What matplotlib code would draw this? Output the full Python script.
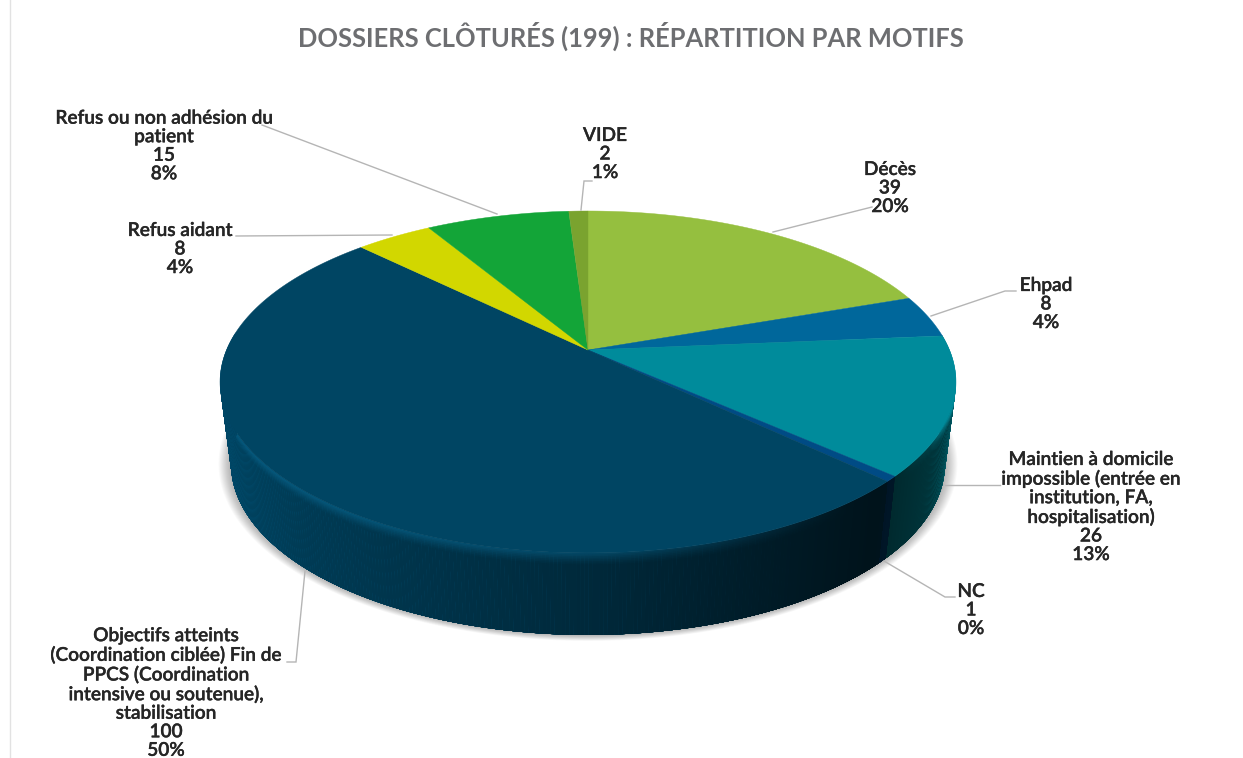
#!/usr/bin/env python3
import numpy as np
import matplotlib
matplotlib.use('Agg')
import matplotlib.pyplot as plt
import matplotlib.patheffects as pe
from matplotlib.collections import PolyCollection
from matplotlib.colors import to_rgb

#-DATA------------------------------------------------------------------------#
title = 'DOSSIERS CLÔTURÉS (199) : RÉPARTITION PAR MOTIFS'
motifs = ['Décès', 'Ehpad',
          'Maintien à domicile\nimpossible (entrée en\ninstitution, FA,\nhospitalisation)',
          'NC',
          'Objectifs atteints\n(Coordination ciblée) Fin de\nPPCS (Coordination\nintensive ou soutenue),\nstabilisation',
          'Refus aidant',
          'Refus ou non adhésion du\npatient',
          'VIDE']
dossiers = [39, 8, 26, 1, 100, 8, 15, 2]
pourcents = ['20%', '4%', '13%', '0%', '50%', '4%', '8%', '1%']
#-END-DATA--------------------------------------------------------------------#

#-STYLE-----------------------------------------------------------------------#
colors = ['#95bf3f', '#00679b', '#008b9b', '#004b85',
          '#004563', '#d2d700', '#13a538', '#7aa32f']
label_xy = [(890, 188), (1046, 304), (1091, 507), (971, 610),
            (166, 693), (180, 249), (164, 146), (605, 154)]
leaders = [[(773, 232), (872, 207)],
           [(931, 316), (1005, 291), (1016, 291)],
           [(945, 485), (1000, 485)],
           [(884, 561), (945, 597), (955, 597)],
           [(305, 571), (296, 662), (287, 662)],
           [(392, 235), (236, 236)],
           [(497, 214), (262, 125)],
           [(581, 210), (584, 181), (592, 181)]]
cx, cy = 588, 350
A, B, k = 361.5, 165, 0.187     # perspective of the top face
depth = 82
shrink = 0.97
#-END-STYLE-------------------------------------------------------------------#


# Angle clockwise from 12 o'clock -> pixel position on the top rim.
def rim(theta, r=1.0):
    u = r * np.sin(theta)
    v = r * np.cos(theta)
    w = 1 + k * v
    return cx + A * u / w, cy - B * v / w


# Same point on the lower edge of the side wall.
def rim_low(theta):
    x, y = rim(theta)
    return cx + (x - cx) * shrink, y + depth


def shade(x):
    return np.interp(x, [221, 300, 420, 600, 880, 960],
                     [0.98, 0.85, 0.74, 0.58, 0.27, 0.42])


def rim_amount(x):
    return np.interp(x, [221, 600, 850, 900, 930, 960],
                     [0.8, 0.5, 0.0, 0.0, 0.1, 0.9])


fig = plt.figure(figsize=(12.43, 7.58), dpi=100)
ax = fig.add_axes([0, 0, 1, 1])
ax.set_xlim(0, 1243)
ax.set_ylim(758, 0)
ax.axis('off')
plt.rcParams['font.family'] = ['Lato', 'DejaVu Sans']

ax.plot([10, 10], [0, 758], color='#e2e2e2', lw=1)

edges = np.cumsum([0] + dossiers) / sum(dossiers) * 2 * np.pi

# Soft shadow below the pie.
t = np.linspace(0, 2 * np.pi, 361)
xl, yl = rim_low(t)
for grow in np.linspace(1.035, 1.0, 14):
    ax.fill(cx + (xl - cx) * grow, 465 + (yl - 465) * grow,
            color='#000000', alpha=0.022, lw=0, zorder=1)

# Side wall, slice by slice. Each quad runs on over the next one and is then
# painted over, so no seams show.
polys, fcs = [], []
step = np.radians(0.5)
for i, col in enumerate(colors):
    base = np.array(to_rgb(col))
    n = max(int((edges[i + 1] - edges[i]) / step), 2)
    th = np.linspace(edges[i], edges[i + 1], n + 1)
    for a, b in zip(th[:-1], th[1:]):
        if np.cos((a + b) / 2) > 0.1:
            continue
        b2 = b + step
        xa, ya = rim(a)
        xb, yb = rim(b2)
        xc, yc = rim_low(a)
        xd, yd = rim_low(b2)
        xm = rim((a + b) / 2)[0]
        wall = base * shade(xm)
        bright = np.clip(base * 1.3 + 0.03, 0, 1)
        for d0 in np.linspace(0, 0.14, 8):
            polys.append([(xa + (xc - xa) * d0, ya + (yc - ya) * d0),
                          (xb + (xd - xb) * d0, yb + (yd - yb) * d0),
                          (xd, yd), (xc, yc)])
            mix = rim_amount(xm) * (1 - d0 / 0.14) ** 1.3
            fcs.append(wall + (bright - wall) * mix)
ax.add_collection(PolyCollection(polys, facecolors=fcs, edgecolors='none',
                                 linewidths=0, zorder=2))

# Top face.
for i, col in enumerate(colors):
    th = np.linspace(edges[i], edges[i + 1], 200)
    x, y = rim(th)
    ax.fill(np.r_[cx, x], np.r_[cy, y], color=col, lw=0.3, zorder=3)

# Leader lines and labels.
for pts in leaders:
    ax.plot(*zip(*pts), color='#b5b5b5', lw=1, zorder=4,
            solid_joinstyle='miter')
for motif, nb, pct, (lx, ly) in zip(motifs, dossiers, pourcents, label_xy):
    ax.text(lx, ly, f'{motif}\n{nb}\n{pct}', ha='center', va='center',
            ma='center', fontsize=13.7, fontweight=600, color='#262626',
            linespacing=1.11, zorder=5,
            path_effects=[pe.withStroke(linewidth=0.25, foreground='#262626')])

ax.text(631, 36.5, title, ha='center', va='center', fontsize=18.4,
        fontweight='bold', color='#6d6e71')

fig.savefig('out.png', dpi=100, facecolor='white')
